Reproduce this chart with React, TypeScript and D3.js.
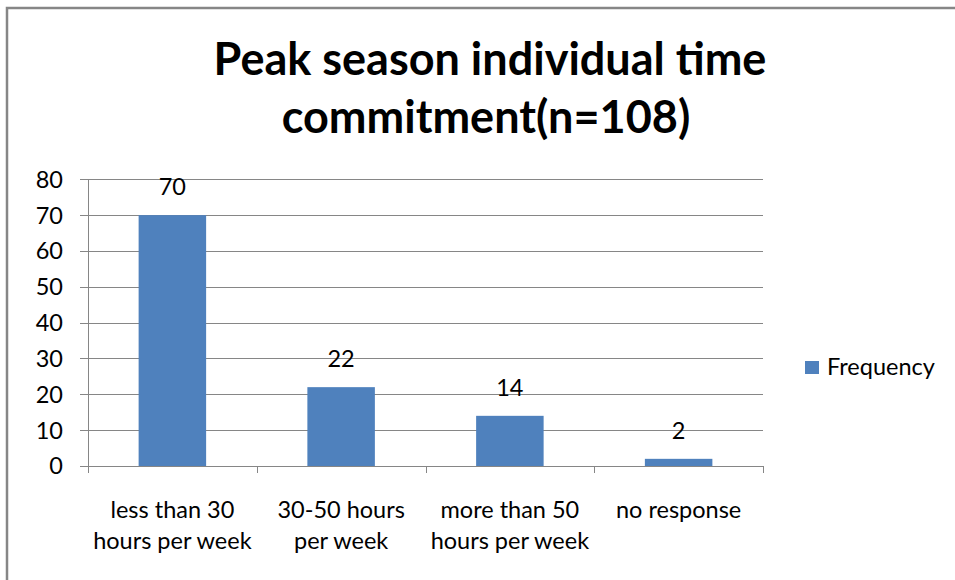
import React from "react";
import * as d3 from "d3";

const categories: string[][] = [
  ["less than 30", "hours per week"],
  ["30-50 hours", "per week"],
  ["more than 50", "hours per week"],
  ["no response"],
];
const categoryKeys = ["less than 30 hours per week", "30-50 hours per week", "more than 50 hours per week", "no response"];
const frequency = [70, 22, 14, 2];
const yTicks = [0, 10, 20, 30, 40, 50, 60, 70, 80];
const titleLines = ["Peak season individual time", "commitment(n=108)"];
const seriesName = "Frequency";

const W = 955;
const H = 580;
const FONT = "Lato, 'Open Sans', sans-serif";
const GRID = "#868686";
const BAR = "#4F81BD";
const FS = 23.5;

export default function App() {
  const left = 88;
  const right = 763;
  const top = 179.3;
  const bottom = 466;
  const x = d3.scaleBand<string>().domain(categoryKeys).range([left, right]).paddingInner(0).paddingOuter(0);
  const y = d3.scaleLinear().domain([0, 80]).range([bottom, top]);
  const bw = x.bandwidth() * 0.4;

  return (
    <svg width={W} height={H} style={{ position: "absolute", left: 0, top: 0, background: "#fff" }} fontFamily={FONT}>
      <rect x={0} y={0} width={W} height={H} fill="#fff" />
      {/* chart frame */}
      <path d={`M7,${H} L7,8 L${W},8`} fill="none" stroke={GRID} strokeWidth={2.5} />
      {/* title */}
      <text x={490} y={75} textAnchor="middle" fontSize={45} fontWeight="bold" fill="#000">
        {titleLines[0]}
      </text>
      <text x={486} y={133} textAnchor="middle" fontSize={45} fontWeight="bold" fill="#000">
        {titleLines[1]}
      </text>
      {/* gridlines & y ticks */}
      {yTicks.map((t) => (
        <g key={t}>
          <line x1={left - 8} x2={right} y1={Math.round(y(t)) + 0.5} y2={Math.round(y(t)) + 0.5} stroke={GRID} strokeWidth={1} />
          <text x={63} y={y(t)} dy="0.36em" textAnchor="end" fontSize={FS} fill="#000">
            {t}
          </text>
        </g>
      ))}
      {/* y axis line */}
      <line x1={left + 0.5} x2={left + 0.5} y1={top} y2={bottom + 7} stroke={GRID} strokeWidth={1} />
      {/* x ticks */}
      {categoryKeys.map((c) => (
        <line key={c} x1={Math.round(x(c)! + x.bandwidth()) + 0.5} x2={Math.round(x(c)! + x.bandwidth()) + 0.5} y1={bottom} y2={bottom + 7} stroke={GRID} strokeWidth={1} />
      ))}
      {/* bars */}
      {categoryKeys.map((c, i) => {
        const cx = x(c)! + x.bandwidth() / 2;
        return (
          <g key={c}>
            <rect x={cx - bw / 2} y={y(frequency[i])} width={bw} height={bottom - y(frequency[i])} fill={BAR} />
            <text x={cx} y={y(frequency[i]) - 20} textAnchor="middle" fontSize={FS} fill="#000">
              {frequency[i]}
            </text>
          </g>
        );
      })}
      {/* category labels */}
      {categoryKeys.map((c, i) => {
        const cx = x(c)! + x.bandwidth() / 2;
        return (
          <text key={c} x={cx} textAnchor="middle" fontSize={FS} fill="#000">
            {categories[i].map((line, j) => (
              <tspan key={j} x={cx} y={518 + j * 31}>
                {line}
              </tspan>
            ))}
          </text>
        );
      })}
      {/* legend */}
      <rect x={805} y={361} width={14} height={13} fill={BAR} />
      <text x={827} y={375} fontSize={FS} fill="#000">
        {seriesName}
      </text>
    </svg>
  );
}
